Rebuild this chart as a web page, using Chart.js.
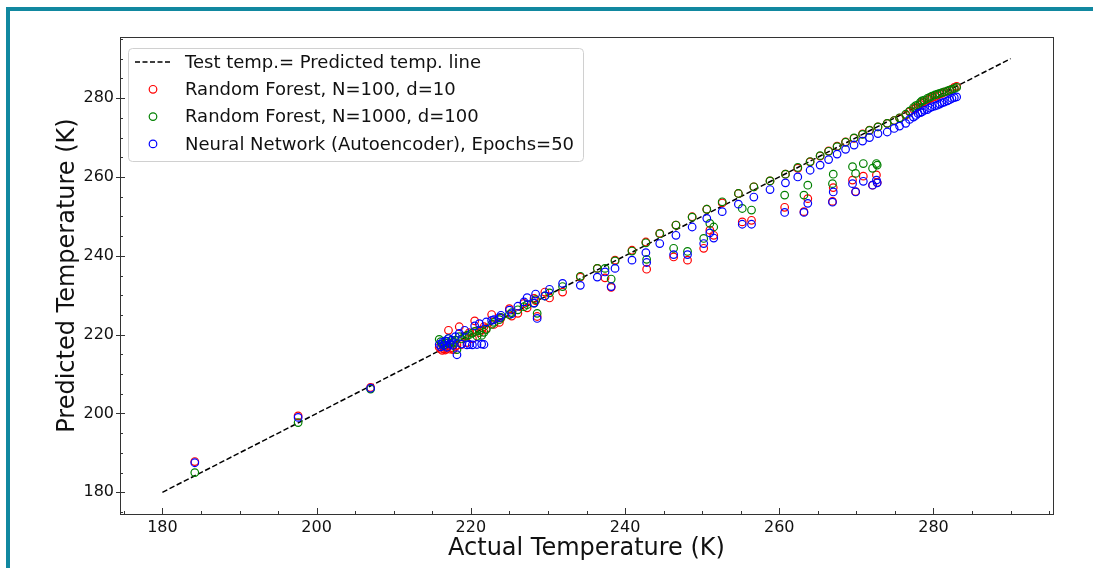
<!DOCTYPE html>
<html>
<head>
    <meta charset="UTF-8">
    <title>Actual vs Predicted Temperature</title>
    <script src="https://cdn.jsdelivr.net/npm/chart.js@4.4.1/dist/chart.umd.min.js"></script>
    <style>
        html, body {
            margin: 0;
            padding: 0;
            background: #ffffff;
            overflow: hidden;
        }
        .frame {
            position: absolute;
            left: 6px;
            top: 7px;
            width: 1100px;
            height: 600px;
            border-left: 4px solid #1188a0;
            border-top: 4px solid #1188a0;
        }
        #chart {
            position: absolute;
            left: 0;
            top: 0;
        }
    </style>
</head>
<body>
    <div class="frame"></div>
    <canvas id="chart" width="1093" height="568"></canvas>

    <script>
        // 実測温度 (K)
        const actualTemp = [
            184.2, 197.6, 207.0, 215.9, 216.1, 216.3, 216.5, 216.7, 216.9, 217.1,
            217.3, 217.5, 217.7, 218.0, 218.2, 218.5, 218.8, 219.2, 219.5, 219.8,
            220.2, 220.5, 220.8, 221.1, 221.4, 221.7, 222.0, 222.7, 223.0, 223.7,
            223.9, 225.0, 225.3, 226.1, 226.9, 227.3, 228.2, 228.4, 228.6, 229.6,
            230.2, 231.9, 234.2, 236.4, 237.4, 238.2, 238.7, 240.9, 242.7, 242.8,
            244.5, 246.3, 246.6, 248.1, 248.7, 250.2, 250.6, 251.0, 251.5, 252.6,
            254.7, 255.2, 256.4, 256.7, 258.8, 260.7, 260.8, 262.4, 263.2, 263.7,
            264.0, 265.3, 266.4, 266.9, 267.0, 267.5, 268.6, 269.5, 269.7, 269.9,
            270.8, 270.9, 271.7, 272.1, 272.6, 272.7, 272.8, 274.0, 274.9, 275.6,
            276.4, 276.9, 277.4, 277.7, 278.0, 278.3, 278.5, 278.8, 279.2, 279.5,
            279.8, 280.2, 280.5, 280.8, 281.1, 281.4, 281.8, 282.1, 282.4, 282.7,
            283.0
        ];
        // Random Forest, N=100, d=10
        const rfSmall = [
            187.8, 199.4, 206.6, 216.8, 216.3, 216.0, 216.4, 216.1, 216.5, 221.1,
            216.3, 216.7, 216.2, 217.0, 217.3, 222.0, 217.5, 219.6, 218.0, 220.5,
            219.0, 223.5, 221.0, 220.5, 221.2, 222.0, 221.6, 225.1, 222.6, 223.1,
            224.2, 226.6, 224.7, 225.4, 227.9, 226.8, 229.2, 228.6, 224.6, 230.8,
            229.3, 230.8, 234.6, 236.8, 234.4, 232.0, 238.9, 241.4, 243.5, 236.6,
            245.7, 239.7, 247.8, 238.9, 249.9, 241.9, 251.8, 246.5, 245.2, 253.4,
            255.8, 248.6, 249.0, 257.5, 259.0, 252.3, 260.7, 262.2, 251.2, 254.5,
            263.8, 265.3, 266.6, 253.8, 257.3, 267.8, 268.9, 259.2, 269.8, 256.3,
            270.9, 260.2, 271.9, 257.9, 260.5, 258.6, 272.7, 273.6, 274.3, 274.9,
            275.7, 276.5, 277.2, 277.5, 277.8, 278.4, 278.8, 279.0, 279.5, 279.8,
            280.1, 280.4, 280.7, 281.0, 281.2, 281.5, 281.7, 282.0, 282.3, 282.7,
            283.0
        ];
        // Random Forest, N=1000, d=100
        const rfLarge = [
            185.0, 197.7, 206.2, 218.8, 218.2, 217.6, 217.4, 217.9, 218.3, 219.0,
            217.8, 218.5, 218.1, 218.6, 216.2, 219.5, 218.9, 219.3, 219.8, 220.0,
            220.4, 220.8, 219.6, 221.0, 219.8, 220.6, 221.3, 222.6, 223.1, 223.8,
            224.4, 225.1, 225.6, 226.3, 227.1, 227.6, 228.0, 228.9, 225.4, 229.8,
            230.6, 232.2, 234.8, 236.8, 236.8, 234.1, 238.7, 241.2, 243.3, 239.1,
            245.6, 241.9, 247.8, 241.1, 249.8, 244.4, 251.8, 248.2, 247.3, 253.7,
            255.8, 252.0, 251.6, 257.5, 259.0, 255.4, 260.7, 262.4, 255.4, 257.9,
            263.9, 265.4, 266.5, 258.3, 260.7, 267.7, 268.8, 262.6, 269.9, 260.9,
            270.8, 263.4, 271.8, 262.2, 263.4, 263.0, 272.7, 273.6, 274.3, 275.0,
            275.9, 276.7, 277.6, 278.1, 278.3, 278.9, 279.3, 279.5, 279.9, 280.2,
            280.5, 280.8, 281.0, 281.2, 281.4, 281.6, 281.8, 282.0, 282.2, 282.4,
            282.7
        ];
        // Neural Network (Autoencoder), Epochs=50
        const nnAuto = [
            187.5, 199.0, 206.4, 217.5, 216.9, 218.0, 217.2, 218.4, 216.8, 219.0,
            217.6, 218.6, 217.3, 219.5, 214.9, 220.3, 217.6, 221.1, 217.4, 217.5,
            217.4, 222.2, 217.5, 222.8, 217.6, 217.5, 223.2, 223.6, 223.8, 224.3,
            224.9, 226.2, 225.3, 227.2, 228.3, 229.4, 228.0, 230.3, 224.1, 229.8,
            231.5, 233.0, 232.5, 234.6, 235.9, 232.2, 236.8, 238.9, 240.8, 238.3,
            243.1, 240.3, 245.2, 240.3, 247.3, 243.1, 249.5, 245.8, 244.5, 251.2,
            253.1, 248.0, 248.0, 254.9, 256.8, 251.0, 258.5, 260.0, 251.0, 253.3,
            261.7, 263.0, 264.4, 253.6, 256.2, 265.8, 267.0, 258.3, 268.1, 256.2,
            269.1, 258.9, 270.0, 257.9, 259.2, 258.5, 271.0, 271.4, 272.3, 272.9,
            273.6, 274.6, 275.2, 275.6, 276.1, 276.3, 276.5, 276.9, 277.1, 277.5,
            277.8, 278.0, 278.2, 278.5, 278.8, 279.0, 279.3, 279.6, 279.9, 280.1,
            280.3
        ];

        // 理想線 (実測 = 予測)
        const idealLine = [180, 290];

        // 目盛り
        const majorTicks = [180, 200, 220, 240, 260, 280];
        const axisMin = 174.5;
        const axisMax = 295.5;

        const seriesLabels = [
            'Test temp.= Predicted temp. line',
            'Random Forest, N=100, d=10',
            'Random Forest, N=1000, d=100',
            'Neural Network (Autoencoder), Epochs=50'
        ];
        const seriesColors = ['#000000', '#ff0000', '#008000', '#0000ff'];

        const FONT = "'DejaVu Sans', 'Liberation Sans', sans-serif";
        const MARKER_R = 3.8;
        const toPoints = ys => actualTemp.map((x, i) => ({ x: x, y: ys[i] }));

        // 枠・内向き目盛り・凡例を描くプラグイン
        const axesDecor = {
            id: 'axesDecor',
            afterDraw(chart) {
                const { ctx, chartArea: a, scales: { x, y } } = chart;
                ctx.save();
                ctx.strokeStyle = '#333333';
                ctx.lineWidth = 1;
                ctx.strokeRect(Math.round(a.left) + 0.5, Math.round(a.top) + 0.5,
                    Math.round(a.right - a.left), Math.round(a.bottom - a.top));

                ctx.beginPath();
                for (let v = 175; v <= axisMax; v += 5) {
                    const major = majorTicks.includes(v);
                    const px = Math.round(x.getPixelForValue(v)) + 0.5;
                    ctx.moveTo(px, a.bottom);
                    ctx.lineTo(px, a.bottom - (major ? 6 : 3));
                    const py = Math.round(y.getPixelForValue(v)) + 0.5;
                    ctx.moveTo(a.left - (major ? 4 : 0), py);
                    ctx.lineTo(a.left + (major ? 5 : 3), py);
                }
                ctx.stroke();

                // 凡例
                const lx = a.left + 8, ly = a.top + 11, lw = 455, lh = 113;
                ctx.beginPath();
                ctx.roundRect(lx + 0.5, ly + 0.5, lw, lh, 4);
                ctx.fillStyle = 'rgba(255,255,255,0.85)';
                ctx.fill();
                ctx.strokeStyle = '#d0d0d0';
                ctx.stroke();

                ctx.font = '18px ' + FONT;
                ctx.textBaseline = 'middle';
                seriesLabels.forEach((label, i) => {
                    const ry = ly + 14 + i * 27.3;
                    if (i === 0) {
                        ctx.beginPath();
                        ctx.setLineDash([5, 2.5]);
                        ctx.lineWidth = 1.5;
                        ctx.strokeStyle = '#000000';
                        ctx.moveTo(lx + 7, ry);
                        ctx.lineTo(lx + 43, ry);
                        ctx.stroke();
                        ctx.setLineDash([]);
                    } else {
                        ctx.beginPath();
                        ctx.lineWidth = 1.2;
                        ctx.strokeStyle = seriesColors[i];
                        ctx.arc(lx + 25, ry, MARKER_R, 0, Math.PI * 2);
                        ctx.stroke();
                    }
                    ctx.fillStyle = '#111111';
                    ctx.fillText(label, lx + 57, ry + 1);
                });
                ctx.restore();
            }
        };

        const scatterSet = (i, ys, order) => ({
            type: 'scatter',
            label: seriesLabels[i],
            data: toPoints(ys),
            borderColor: seriesColors[i],
            backgroundColor: 'transparent',
            borderWidth: 1.2,
            pointRadius: MARKER_R,
            pointHoverRadius: MARKER_R,
            order: order
        });

        const axisCommon = {
            type: 'linear',
            min: axisMin,
            max: axisMax,
            grid: { display: false, drawTicks: false },
            border: { display: false },
            afterBuildTicks: s => { s.ticks = majorTicks.map(v => ({ value: v })); }
        };

        new Chart(document.getElementById('chart'), {
            data: {
                datasets: [
                    {
                        type: 'line',
                        label: seriesLabels[0],
                        data: idealLine.map(v => ({ x: v, y: v })),
                        borderColor: '#000000',
                        borderWidth: 1.5,
                        borderDash: [5.5, 2.5],
                        pointRadius: 0,
                        fill: false,
                        order: 3
                    },
                    scatterSet(1, rfSmall, 2),
                    scatterSet(2, rfLarge, 1),
                    scatterSet(3, nnAuto, 0)
                ]
            },
            options: {
                responsive: false,
                animation: false,
                devicePixelRatio: 1,
                layout: { padding: { left: 0, right: 40, top: 37, bottom: 0 } },
                plugins: {
                    legend: { display: false },
                    tooltip: { enabled: false }
                },
                scales: {
                    x: Object.assign({}, axisCommon, {
                        position: 'bottom',
                        ticks: { color: '#111111', padding: 4, font: { family: FONT, size: 16 } },
                        title: {
                            display: true,
                            text: 'Actual Temperature (K)',
                            color: '#111111',
                            padding: 5,
                            font: { family: FONT, size: 24 }
                        },
                        afterFit: s => { s.height = 54; }
                    }),
                    y: Object.assign({}, axisCommon, {
                        position: 'left',
                        ticks: { color: '#111111', padding: 6, font: { family: FONT, size: 16 } },
                        title: {
                            display: true,
                            text: 'Predicted Temperature (K)',
                            color: '#111111',
                            padding: 53,
                            font: { family: FONT, size: 24 }
                        },
                        afterFit: s => { s.width = 120; }
                    })
                }
            },
            plugins: [axesDecor]
        });
    </script>
</body>
</html>
